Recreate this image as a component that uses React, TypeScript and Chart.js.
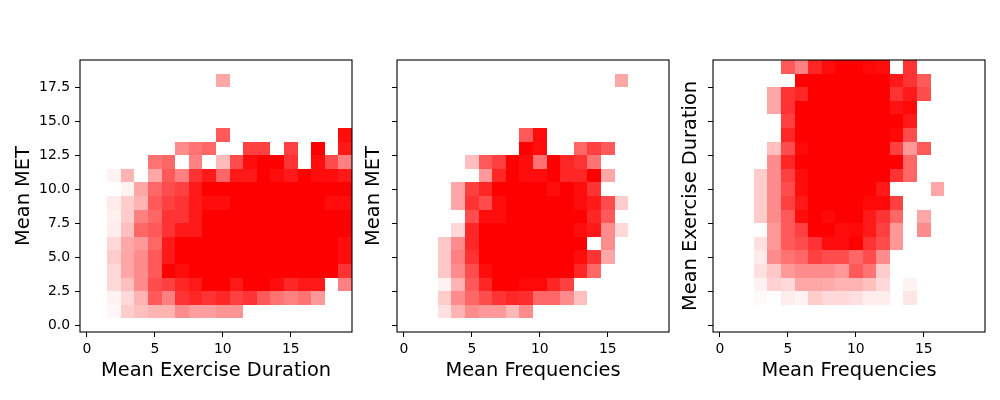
import { useEffect, useRef } from 'react';
import { Chart, registerables } from 'chart.js';

Chart.register(...registerables);
Chart.defaults.font.family = "'DejaVu Sans', sans-serif";

// bin centres (both axes use unit bins centred on integers)
const binValues = [0, 1, 2, 3, 4, 5, 6, 7, 8, 9, 10, 11, 12, 13, 14, 15, 16, 17, 18, 19];
const xTicks = [0, 5, 10, 15];
const yTicks = [0, 2.5, 5, 7.5, 10, 12.5, 15, 17.5];

// colour intensity per bin (0-100), rows listed from y=19 (top) down to y=0
const metByDuration = [
    [0, 0, 0, 0, 0, 0, 0, 0, 0, 0, 0, 0, 0, 0, 0, 0, 0, 0, 0, 0],
    [0, 0, 0, 0, 0, 0, 0, 0, 0, 0, 35, 0, 0, 0, 0, 0, 0, 0, 0, 0],
    [0, 0, 0, 0, 0, 0, 0, 0, 0, 0, 0, 0, 0, 0, 0, 0, 0, 0, 0, 0],
    [0, 0, 0, 0, 0, 0, 0, 0, 0, 0, 0, 0, 0, 0, 0, 0, 0, 0, 0, 0],
    [0, 0, 0, 0, 0, 0, 0, 0, 0, 0, 0, 0, 0, 0, 0, 0, 0, 0, 0, 0],
    [0, 0, 0, 0, 0, 0, 0, 0, 0, 0, 65, 0, 0, 0, 0, 0, 0, 0, 0, 95],
    [0, 0, 0, 0, 0, 0, 0, 45, 55, 60, 0, 0, 75, 75, 0, 75, 0, 100, 0, 90],
    [0, 0, 0, 0, 0, 55, 60, 0, 50, 0, 27, 70, 95, 100, 100, 80, 0, 95, 70, 50],
    [0, 0, 5, 30, 0, 35, 65, 50, 80, 90, 60, 90, 90, 100, 95, 90, 100, 95, 95, 90],
    [0, 0, 0, 5, 35, 60, 70, 75, 90, 100, 100, 100, 100, 100, 100, 100, 100, 100, 100, 100],
    [0, 0, 8, 20, 30, 65, 75, 80, 90, 95, 95, 100, 100, 100, 100, 100, 100, 100, 95, 95],
    [0, 0, 6, 20, 50, 60, 80, 80, 90, 100, 100, 100, 100, 100, 100, 100, 100, 100, 100, 100],
    [0, 0, 7, 25, 60, 65, 80, 90, 90, 100, 100, 100, 100, 100, 100, 100, 100, 100, 100, 100],
    [0, 0, 15, 35, 40, 60, 90, 100, 100, 100, 100, 100, 100, 100, 100, 100, 100, 100, 100, 95],
    [0, 0, 20, 35, 45, 65, 90, 100, 100, 100, 100, 100, 100, 100, 100, 100, 100, 100, 100, 95],
    [0, 0, 15, 35, 45, 65, 100, 95, 100, 100, 100, 100, 100, 100, 100, 100, 100, 100, 100, 80],
    [0, 0, 15, 25, 45, 70, 75, 85, 90, 100, 100, 90, 100, 100, 95, 85, 90, 90, 0, 50],
    [0, 0, 5, 15, 30, 65, 50, 80, 85, 80, 85, 75, 80, 65, 55, 50, 55, 40, 0, 0],
    [0, 0, 3, 20, 25, 30, 30, 45, 38, 38, 42, 42, 0, 0, 0, 0, 0, 0, 0, 0],
    [0, 0, 0, 0, 0, 0, 0, 0, 0, 0, 0, 0, 0, 0, 0, 0, 0, 0, 0, 0],
];

const metByFrequency = [
    [0, 0, 0, 0, 0, 0, 0, 0, 0, 0, 0, 0, 0, 0, 0, 0, 0, 0, 0, 0],
    [0, 0, 0, 0, 0, 0, 0, 0, 0, 0, 0, 0, 0, 0, 0, 0, 35, 0, 0, 0],
    [0, 0, 0, 0, 0, 0, 0, 0, 0, 0, 0, 0, 0, 0, 0, 0, 0, 0, 0, 0],
    [0, 0, 0, 0, 0, 0, 0, 0, 0, 0, 0, 0, 0, 0, 0, 0, 0, 0, 0, 0],
    [0, 0, 0, 0, 0, 0, 0, 0, 0, 0, 0, 0, 0, 0, 0, 0, 0, 0, 0, 0],
    [0, 0, 0, 0, 0, 0, 0, 0, 0, 65, 95, 0, 0, 0, 0, 0, 0, 0, 0, 0],
    [0, 0, 0, 0, 0, 0, 0, 0, 0, 100, 95, 0, 0, 60, 75, 65, 0, 0, 0, 0],
    [0, 0, 0, 0, 0, 25, 65, 75, 100, 95, 55, 100, 85, 80, 55, 0, 0, 0, 0, 0],
    [0, 0, 0, 0, 0, 0, 40, 85, 100, 95, 95, 100, 85, 85, 100, 35, 0, 0, 0, 0],
    [0, 0, 0, 0, 35, 75, 85, 100, 100, 100, 100, 95, 100, 95, 80, 0, 0, 0, 0, 0],
    [0, 0, 0, 0, 35, 80, 70, 95, 100, 100, 100, 100, 100, 95, 90, 70, 20, 0, 0, 0],
    [0, 0, 0, 0, 0, 70, 95, 95, 100, 100, 100, 100, 100, 100, 85, 65, 0, 0, 0, 0],
    [0, 0, 0, 0, 15, 85, 100, 100, 100, 100, 100, 100, 100, 95, 90, 45, 15, 0, 0, 0],
    [0, 0, 0, 22, 45, 85, 100, 100, 100, 100, 100, 100, 100, 100, 0, 45, 0, 0, 0, 0],
    [0, 0, 0, 22, 50, 80, 100, 100, 100, 100, 100, 100, 100, 95, 80, 35, 0, 0, 0, 0],
    [0, 0, 0, 22, 45, 70, 95, 100, 100, 100, 100, 100, 100, 85, 60, 0, 0, 0, 0, 0],
    [0, 0, 0, 5, 30, 65, 85, 100, 100, 97, 97, 85, 75, 0, 0, 0, 0, 0, 0, 0],
    [0, 0, 0, 20, 45, 60, 70, 80, 85, 82, 60, 60, 45, 25, 0, 0, 0, 0, 0, 0],
    [0, 0, 0, 12, 30, 45, 40, 40, 28, 45, 0, 0, 0, 0, 0, 0, 0, 0, 0, 0],
    [0, 0, 0, 0, 0, 0, 0, 0, 0, 0, 0, 0, 0, 0, 0, 0, 0, 0, 0, 0],
];

const durationByFrequency = [
    [0, 0, 0, 0, 0, 65, 50, 85, 95, 100, 100, 97, 95, 0, 80, 0, 0, 0, 0, 0],
    [0, 0, 0, 0, 0, 0, 100, 100, 100, 100, 100, 100, 100, 90, 80, 65, 0, 0, 0, 0],
    [0, 0, 0, 0, 35, 80, 85, 100, 100, 100, 100, 100, 100, 80, 90, 70, 0, 0, 0, 0],
    [0, 0, 0, 0, 35, 80, 100, 100, 100, 100, 100, 100, 100, 93, 97, 0, 0, 0, 0, 0],
    [0, 0, 0, 0, 0, 75, 100, 100, 100, 100, 100, 100, 100, 100, 90, 0, 0, 0, 0, 0],
    [0, 0, 0, 0, 0, 85, 100, 100, 100, 100, 100, 100, 100, 97, 70, 0, 0, 0, 0, 0],
    [0, 0, 0, 0, 25, 70, 97, 100, 100, 100, 100, 100, 100, 75, 40, 65, 0, 0, 0, 0],
    [0, 0, 0, 0, 45, 85, 100, 100, 100, 100, 100, 100, 100, 100, 60, 0, 0, 0, 0, 0],
    [0, 0, 0, 20, 45, 75, 95, 100, 100, 100, 100, 100, 100, 80, 60, 0, 0, 0, 0, 0],
    [0, 0, 0, 20, 45, 70, 95, 100, 100, 100, 100, 100, 90, 0, 0, 0, 35, 0, 0, 0],
    [0, 0, 0, 20, 45, 75, 90, 100, 100, 100, 100, 97, 97, 75, 0, 0, 0, 0, 0, 0],
    [0, 0, 0, 20, 45, 65, 95, 100, 97, 100, 100, 90, 80, 60, 0, 35, 0, 0, 0, 0],
    [0, 0, 0, 0, 40, 65, 75, 100, 100, 95, 97, 90, 75, 40, 0, 45, 0, 0, 0, 0],
    [0, 0, 0, 12, 40, 65, 70, 80, 95, 95, 100, 80, 70, 40, 0, 0, 0, 0, 0, 0],
    [0, 0, 0, 8, 45, 55, 60, 75, 70, 70, 60, 70, 45, 0, 0, 0, 0, 0, 0, 0],
    [0, 0, 0, 12, 22, 40, 45, 45, 45, 40, 65, 55, 20, 0, 0, 0, 0, 0, 0, 0],
    [0, 0, 0, 5, 18, 15, 35, 35, 33, 30, 30, 25, 15, 0, 5, 0, 0, 0, 0, 0],
    [0, 0, 0, 2, 0, 7, 5, 20, 15, 15, 12, 7, 7, 0, 10, 0, 0, 0, 0, 0],
    [0, 0, 0, 0, 0, 0, 0, 0, 0, 0, 0, 0, 0, 0, 0, 0, 0, 0, 0, 0],
    [0, 0, 0, 0, 0, 0, 0, 0, 0, 0, 0, 0, 0, 0, 0, 0, 0, 0, 0, 0],
];

// draws each bin as a rectangle using the chart's own scales
const heatPlugin = {
    id: 'heatCells',
    beforeDatasetsDraw(chart: any) {
        const { ctx, chartArea, scales } = chart;
        const cells = chart.data.datasets[0].data;
        ctx.save();
        ctx.beginPath();
        ctx.rect(chartArea.left, chartArea.top, chartArea.width, chartArea.height);
        ctx.clip();
        cells.forEach((c: any) => {
            const x0 = Math.round(scales.x.getPixelForValue(c.x - 0.5));
            const x1 = Math.round(scales.x.getPixelForValue(c.x + 0.5));
            const y0 = Math.round(scales.y.getPixelForValue(c.y + 0.5));
            const y1 = Math.round(scales.y.getPixelForValue(c.y - 0.5));
            const g = Math.round(255 * (1 - c.v / 100));
            ctx.fillStyle = `rgb(255, ${g}, ${g})`;
            ctx.fillRect(x0, y0, x1 - x0, y1 - y0);
        });
        ctx.restore();
    },
    afterDraw(chart: any) {
        const { ctx, chartArea } = chart;
        ctx.save();
        ctx.strokeStyle = '#000';
        ctx.lineWidth = 1.1;
        ctx.strokeRect(chartArea.left, chartArea.top, chartArea.width, chartArea.height);
        ctx.restore();
    },
};

function Hist2D({ grid, xTitle, yTitle, showYLabels, yTitlePad, left }: {
    grid: number[][],
    xTitle: string,
    yTitle: string,
    showYLabels: boolean,
    yTitlePad: number,
    left: number
}) {
    const canvasRef = useRef<HTMLCanvasElement>(null);

    useEffect(() => {
        if (!canvasRef.current) return;
        const top = binValues.length - 1;
        const cells: { x: number, y: number, v: number }[] = [];
        grid.forEach((row, i) => row.forEach((v, j) => {
            if (v > 0) cells.push({ x: binValues[j], y: binValues[top - i], v });
        }));

        const chart = new Chart(canvasRef.current, {
            type: 'scatter',
            data: { datasets: [{ data: cells, pointRadius: 0 }] },
            plugins: [heatPlugin],
            options: {
                responsive: false,
                animation: false,
                events: [],
                layout: { padding: { top: 60, right: 8, left: 0, bottom: 0 } },
                plugins: { legend: { display: false }, tooltip: { enabled: false } },
                scales: {
                    x: {
                        type: 'linear',
                        min: -0.5,
                        max: 19.5,
                        afterBuildTicks: (s: any) => { s.ticks = xTicks.map(value => ({ value })); },
                        afterFit: (s: any) => { s.height = 68; },
                        border: { display: false },
                        grid: { drawOnChartArea: false, drawTicks: true, tickLength: 5, tickColor: '#000', tickWidth: 1 },
                        ticks: { color: '#000', font: { size: 13.9 }, padding: 4, maxRotation: 0, autoSkip: false },
                        title: { display: true, text: xTitle, color: '#000', font: { size: 19.4 }, padding: { top: 0, bottom: 17.5 } },
                    },
                    y: {
                        type: 'linear',
                        min: -0.5,
                        max: 19.5,
                        afterBuildTicks: (s: any) => { s.ticks = yTicks.map(value => ({ value })); },
                        afterFit: (s: any) => { s.width = 80; },
                        border: { display: false },
                        grid: { drawOnChartArea: false, drawTicks: true, tickLength: 5, tickColor: '#000', tickWidth: 1 },
                        ticks: {
                            color: showYLabels ? '#000' : 'rgba(0,0,0,0)',
                            font: { size: 13.9 },
                            padding: 5,
                            autoSkip: false,
                            callback: (v: any) => Number(v).toFixed(1),
                        },
                        title: { display: true, text: yTitle, color: '#000', font: { size: 19.4 }, padding: { top: yTitlePad, bottom: 0 } },
                    },
                },
            },
        });

        return () => chart.destroy();
    }, [grid]);

    return (
        <canvas
            ref={canvasRef}
            width={360}
            height={400}
            style={{ position: 'absolute', left, top: 0, width: 360, height: 400 }}
        />
    );
}

export default function App() {
    return (
        <div style={{ position: 'fixed', left: 0, top: 0, width: 1000, height: 400, background: '#fff', overflow: 'hidden' }}>
            <Hist2D grid={metByDuration} xTitle="Mean Exercise Duration" yTitle="Mean MET" showYLabels={true} yTitlePad={12.5} left={0} />
            <Hist2D grid={metByFrequency} xTitle="Mean Frequencies" yTitle="Mean MET" showYLabels={false} yTitlePad={45.4} left={317} />
            <Hist2D grid={durationByFrequency} xTitle="Mean Frequencies" yTitle="Mean Exercise Duration" showYLabels={false} yTitlePad={46.8} left={633} />
        </div>
    );
}
